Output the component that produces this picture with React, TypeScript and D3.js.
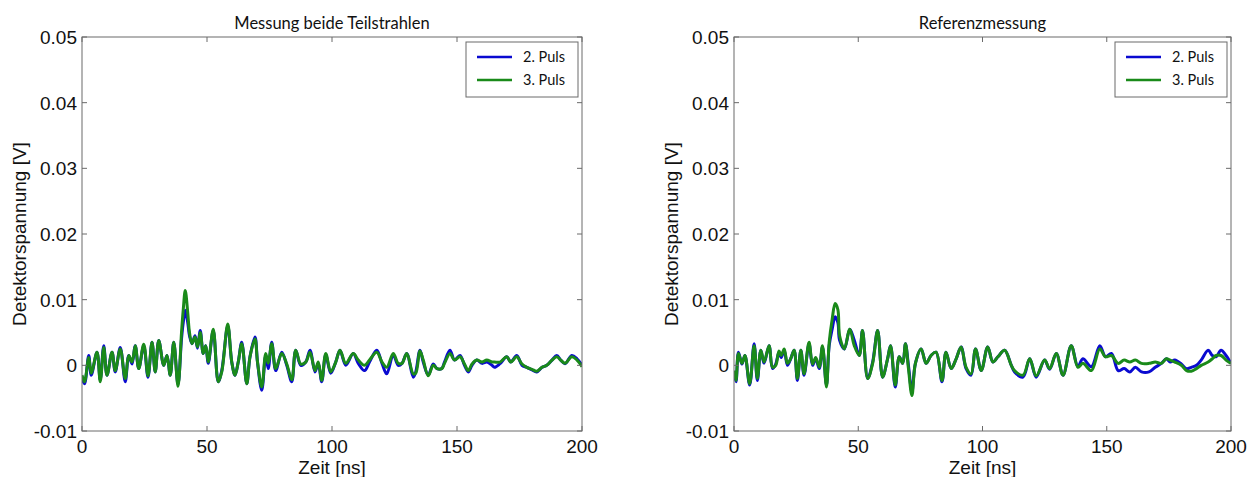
import React from "react";
import * as d3 from "d3";

// ---------- data (time in ns, voltage in mV) ----------
const leftTime = [0, 1, 2.7, 3.7, 6, 7.3, 8.7, 10, 12, 13.3, 15.3, 17.3, 18.7, 20, 21.3, 22.7, 24.7, 26.4, 28, 29.3, 30.7, 32.7, 34, 35.3, 36.7, 38.4, 39.8, 40.5, 41.3, 42.3, 43, 44, 45.2, 46.2, 47.3, 48.5, 49.5, 50.5, 52.5, 54.5, 55.9, 58.3, 59.9, 61.2, 62.5, 63.9, 65.9, 67.2, 69.2, 70.2, 71.9, 73.5, 74.5, 75.9, 77.5, 79.9, 81.9, 83.9, 85.5, 87.5, 89.5, 91.2, 93.2, 94.5, 95.9, 97.5, 99.5, 101.5, 103.2, 105.5, 108.5, 110.5, 113, 115, 117.9, 120, 121.9, 124.5, 126.5, 128, 129.9, 132.5, 133.5, 135.2, 136.5, 138.5, 140.5, 142, 143.9, 145, 147.2, 149, 151.2, 153, 154.5, 156, 157.9, 160, 161.9, 164, 165, 167.2, 169.9, 171.5, 173.9, 176, 177.9, 180, 181.9, 184, 185.9, 188, 189.9, 191.5, 193.2, 195.9, 198, 200];
const leftPuls2 = [-2, -2.8, 1.5, -1.5, 2.0, -2.2, 3.0, -1.5, 2.0, -1.0, 2.7, -2.5, 1.5, 0.2, 3.0, -0.5, 3.0, -1.8, 3.5, -1.0, 3.8, 0.0, 1.5, -1.5, 3.5, -2.9, 4.0, 6.5, 8.4, 6.5, 4.5, 3.3, 4.5, 2.6, 5.3, 1.8, 3.0, 0.3, 5.3, -2.5, -0.8, 6.0, 0.5, -1.5, 0.5, 3.5, -2.8, 1.3, 4.3, 0.5, -3.8, 1.5, -0.5, 3.5, -0.8, 2.0, 0.0, -2.5, 2.3, 0.0, 0.5, 2.3, -1.0, 0.3, -2.5, 1.6, -1.2, 0.5, 2.3, 0.0, 1.8, 0.3, -0.8, 0.5, 2.3, 0.3, -1.3, 1.6, 0.0, 0.3, 1.8, -1.8, -1.0, 2.3, 0.5, -1.5, 0.2, -0.5, -0.5, 0.5, 2.3, 0.8, 1.5, 0.0, -1.0, 0.0, 0.8, 0.3, 0.5, 0.0, -0.3, 0.25, 1.3, 0.5, 1.5, 0.0, -0.3, -0.7, -1.0, -0.3, 0.0, 0.8, 1.5, 0.8, 0.25, 1.5, 1.0, 0.0];
const leftPuls3 = [-1.5, -2.5, 1.2, -1.2, 2.0, -2.5, 2.7, -1.5, 2.0, -0.8, 2.5, -2.0, 1.5, 0.5, 3.0, -0.5, 3.2, -1.6, 3.5, -1.0, 3.8, 0.0, 1.5, -1.5, 3.5, -3.2, 5.0, 8.5, 11.4, 8.0, 5.0, 3.3, 4.3, 2.8, 5.0, 1.8, 3.0, 0.5, 5.5, -2.5, -1.0, 6.3, 0.5, -1.5, 0.5, 3.3, -2.8, 1.3, 4.0, 0.5, -3.3, 1.8, 0.3, 3.3, -0.5, 1.8, 0.2, -2.2, 2.3, 0.2, 0.5, 2.0, -0.8, 0.5, -2.3, 1.8, -1.0, 0.5, 2.3, 0.3, 1.8, 0.8, 0.0, 0.8, 2.0, 0.5, -0.3, 1.8, 0.3, 0.3, 1.8, -1.3, -1.2, 2.2, 0.8, -1.6, 0.0, -0.5, -0.5, 0.3, 1.8, 0.8, 1.3, 0.2, -0.8, 0.2, 0.8, 0.5, 0.8, 0.5, 0.5, 0.5, 1.3, 0.5, 1.3, 0.2, -0.3, -0.6, -0.9, -0.3, 0.0, 0.8, 1.3, 0.8, 0.3, 1.3, 0.8, -0.2];

const rightTime = [0, 0.8, 1.8, 3.2, 4.4, 6.3, 8.1, 9.4, 10.8, 12.1, 14.1, 15.5, 16.8, 18.1, 19, 20.2, 21.5, 22.8, 24.2, 25.5, 26.9, 28.2, 30.2, 31.6, 32.9, 34.3, 35.6, 37.2, 38.3, 39.5, 40.7, 41.8, 42.5, 44.4, 46.6, 48.4, 50.4, 51.7, 53.8, 55.8, 57.8, 59.8, 61.8, 63, 64.9, 66.5, 67.9, 69, 70.2, 71.6, 73, 75.3, 77.3, 79.3, 81.3, 83.7, 85.3, 87.4, 89.4, 91.4, 93.4, 95.4, 97.2, 99.5, 102.1, 104.2, 106.2, 108.9, 111.6, 112.9, 116.3, 119, 121.6, 125, 127, 129.7, 132.4, 135.7, 138.4, 140.4, 143.8, 147.2, 149.5, 151.9, 154.6, 157, 159.3, 161.5, 164, 167, 169.5, 172, 174, 175.5, 177.4, 180, 182.1, 184, 186.1, 188, 190.8, 192.5, 194, 196, 198, 200];
const rightPuls2 = [-1.0, -2.5, 2.0, 0.2, 1.5, -3.0, 3.3, -2.3, 2.3, 0.3, 3.0, -0.5, 0.2, 2.0, 1.2, 2.3, 0.0, 1.0, 2.3, -2.3, 2.3, -1.5, 3.3, 0.0, 1.0, -0.5, 2.8, -3.0, 3.0, 5.5, 7.4, 6.5, 3.8, 2.5, 5.5, 3.8, 1.5, 5.3, -2.0, 0.5, 5.3, -1.8, 1.0, 3.0, -3.3, 1.3, 0.3, 3.3, 0.0, -4.0, 0.3, 2.5, 0.3, 1.5, 2.0, -2.5, 2.0, -0.5, 1.0, 2.8, -0.5, -1.5, 2.5, -0.8, 2.8, 0.5, 1.3, 2.3, 0.0, -1.0, -1.8, 1.0, -1.8, 0.8, -0.6, 1.8, -1.5, 3.0, -0.2, 1.0, -0.2, 3.0, 1.3, 1.8, -0.8, -0.5, -1.0, -0.3, -1.0, -1.0, -0.3, 0.3, 1.0, 0.5, 0.8, 0.2, -0.5, -0.3, 0.0, 0.8, 2.3, 1.5, 1.3, 2.3, 1.5, 0.3];
const rightPuls3 = [-0.8, -2.3, 1.8, 0.3, 1.5, -2.8, 3.0, -2.0, 2.3, 0.5, 3.0, -0.3, 0.0, 2.2, 1.5, 2.5, 0.3, 1.0, 2.3, -2.0, 2.3, -1.3, 3.5, 0.2, 1.2, -0.3, 3.0, -3.3, 3.5, 7.0, 9.4, 8.5, 4.5, 2.5, 5.5, 3.0, 1.5, 5.3, -2.0, 0.3, 5.3, -1.8, 1.0, 3.0, -3.0, 1.3, 0.3, 3.3, -0.5, -4.6, 0.3, 2.5, 0.3, 1.5, 2.0, -2.3, 2.0, -0.5, 1.0, 2.8, -0.3, -1.3, 2.5, -0.8, 2.8, 0.5, 1.3, 2.3, 0.0, -0.8, -1.5, 1.0, -1.6, 0.8, -0.5, 1.8, -1.5, 3.0, -0.3, 0.3, -0.8, 2.5, 1.3, 1.5, 0.3, 0.8, 0.5, 0.8, 0.3, 0.3, 0.5, 0.3, 1.0, 0.8, 0.5, 0.0, -0.8, -0.9, -0.5, 0.0, 0.5, 1.0, 1.5, 1.5, 0.8, 0.3];

const xTicks = [0, 50, 100, 150, 200];
const yTicks = [-0.01, 0, 0.01, 0.02, 0.03, 0.04, 0.05];
const yTickLabels = ["-0.01", "0", "0.01", "0.02", "0.03", "0.04", "0.05"];
const seriesNames = ["2. Puls", "3. Puls"];
const seriesColors = ["#0a0ad0", "#1a8a1a"];
const panelTitles = ["Messung beide Teilstrahlen", "Referenzmessung"];

const W = 1259;
const H = 477;

type PanelProps = {
  x0: number; x1: number; y0: number; y1: number;
  title: string; time: number[]; s2: number[]; s3: number[];
};

function Panel({ x0, x1, y0, y1, title, time, s2, s3 }: PanelProps) {
  const x = d3.scaleLinear().domain([0, 200]).range([x0, x1]);
  const y = d3.scaleLinear().domain([-0.01, 0.05]).range([y1, y0]);
  const mk = (vals: number[]) =>
    d3.line<number>()
      .x((_, i) => x(time[i]))
      .y((v) => y(v / 1000))
      .curve(d3.curveCatmullRom.alpha(0.5))(vals) || "";
  const axisColor = "#6a6a6a";
  const tl = 5;
  const tickFont = "'Liberation Sans', Arial, sans-serif";
  const lg = { x: x1 - 116, y: y0 + 5, w: 112, h: 55 };
  const lgFont = "Lato, 'Open Sans', sans-serif";
  return (
    <g>
      <rect x={x0} y={y0} width={x1 - x0} height={y1 - y0} fill="#fff" />
      <defs>
        <clipPath id={`clip-${x0}`}>
          <rect x={x0} y={y0} width={x1 - x0} height={y1 - y0} />
        </clipPath>
      </defs>
      <g clipPath={`url(#clip-${x0})`}>
        <path d={mk(s2)} fill="none" stroke={seriesColors[0]} strokeWidth={3} strokeLinejoin="round" />
        <path d={mk(s3)} fill="none" stroke={seriesColors[1]} strokeWidth={3} strokeLinejoin="round" />
      </g>
      <rect x={x0} y={y0} width={x1 - x0} height={y1 - y0} fill="none" stroke={axisColor} strokeWidth={1} />
      {xTicks.map((t) => (
        <g key={`xt${t}`}>
          <line x1={x(t)} x2={x(t)} y1={y1} y2={y1 - tl} stroke={axisColor} />
          <line x1={x(t)} x2={x(t)} y1={y0} y2={y0 + tl} stroke={axisColor} />
          <text x={x(t)} y={y1 + 22} textAnchor="middle" fontFamily={tickFont} fontSize={19} fill="#111">{t}</text>
        </g>
      ))}
      {yTicks.map((t, i) => (
        <g key={`yt${i}`}>
          <line x1={x0} x2={x0 + tl} y1={y(t)} y2={y(t)} stroke={axisColor} />
          <line x1={x1} x2={x1 - tl} y1={y(t)} y2={y(t)} stroke={axisColor} />
          <text x={x0 - 5} y={y(t) + 7} textAnchor="end" fontFamily={tickFont} fontSize={19} fill="#111">{yTickLabels[i]}</text>
        </g>
      ))}
      <text x={(x0 + x1) / 2} y={y1 + 43} textAnchor="middle" fontFamily={tickFont} fontSize={19} fill="#111">Zeit [ns]</text>
      <text transform={`translate(${x0 - 56},${(y0 + y1) / 2}) rotate(-90)`} textAnchor="middle" fontFamily={tickFont} fontSize={19} fill="#111">Detektorspannung [V]</text>
      <text x={(x0 + x1) / 2} y={y0 - 8} textAnchor="middle" fontFamily={lgFont} fontSize={16.5} fill="#111">{title}</text>
      <rect x={lg.x} y={lg.y} width={lg.w} height={lg.h} fill="#fff" stroke={axisColor} strokeWidth={1} />
      {seriesNames.map((n, i) => (
        <g key={n}>
          <line x1={lg.x + 11} x2={lg.x + 46} y1={lg.y + 15 + i * 23} y2={lg.y + 15 + i * 23} stroke={seriesColors[i]} strokeWidth={2.4} />
          <text x={lg.x + 57} y={lg.y + 20 + i * 23} fontFamily={lgFont} fontSize={14.5} fill="#111">{n}</text>
        </g>
      ))}
    </g>
  );
}

export default function App() {
  return (
    <svg width={W} height={H} style={{ position: "absolute", left: 0, top: 0, background: "#fff" }}>
      <rect width={W} height={H} fill="#fff" />
      <Panel x0={82} x1={582} y0={37} y1={431} title={panelTitles[0]} time={leftTime} s2={leftPuls2} s3={leftPuls3} />
      <Panel x0={734} x1={1231} y0={37} y1={431} title={panelTitles[1]} time={rightTime} s2={rightPuls2} s3={rightPuls3} />
    </svg>
  );
}
